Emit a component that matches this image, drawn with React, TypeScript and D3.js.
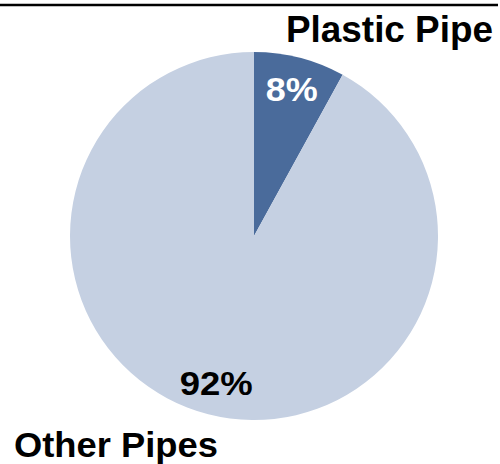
import React from "react";
import * as d3 from "d3";

const categories = ["Plastic Pipe", "Other Pipes"];
const values = [8, 92];
const colors = ["#4A6B9B", "#C5D0E2"];
const labelColors = ["#FFFFFF", "#000000"];
const labelWidths = [52, 73];

const W = 500;
const H = 464;
const cx = 254;
const cy = 236;
const R = 184;

export default function App() {
  const pie = d3.pie<number>().sort(null).value((d) => d)(values);
  const arc = d3.arc<d3.PieArcDatum<number>>().innerRadius(0).outerRadius(R);
  const labelArc = d3
    .arc<d3.PieArcDatum<number>>()
    .innerRadius(R * 0.826)
    .outerRadius(R * 0.826);
  const font = "'Liberation Sans', Arial, Helvetica, sans-serif";
  return (
    <svg
      width={W}
      height={H}
      style={{ position: "absolute", left: 0, top: 0, display: "block", background: "#fff" }}
    >
      <line x1={0} x2={498} y1={5} y2={5} stroke="#000" strokeWidth={2.5} />
      <g transform={`translate(${cx},${cy})`}>
        {pie.map((p, i) => (
          <path key={i} d={arc(p) || ""} fill={colors[i]} />
        ))}
        {pie.map((p, i) => {
          const [x, y] = labelArc.centroid(p);
          return (
            <text
              key={"l" + i}
              x={x - labelWidths[i] / 2}
              y={y + 12}
              textAnchor="start"
              fontFamily={font}
              fontWeight="bold"
              fontSize={33}
              textLength={labelWidths[i]}
              lengthAdjust="spacingAndGlyphs"
              fill={labelColors[i]}
            >
              {`${values[i]}%`}
            </text>
          );
        })}
      </g>
      <text
        x={286}
        y={42}
        textAnchor="start"
        fontFamily={font}
        fontWeight="bold"
        fontSize={36}
        textLength={207}
        lengthAdjust="spacingAndGlyphs"
        fill="#000"
      >
        {categories[0]}
      </text>
      <text
        x={14}
        y={457}
        textAnchor="start"
        fontFamily={font}
        fontWeight="bold"
        fontSize={35}
        textLength={204}
        lengthAdjust="spacingAndGlyphs"
        fill="#000"
      >
        {categories[1]}
      </text>
    </svg>
  );
}
